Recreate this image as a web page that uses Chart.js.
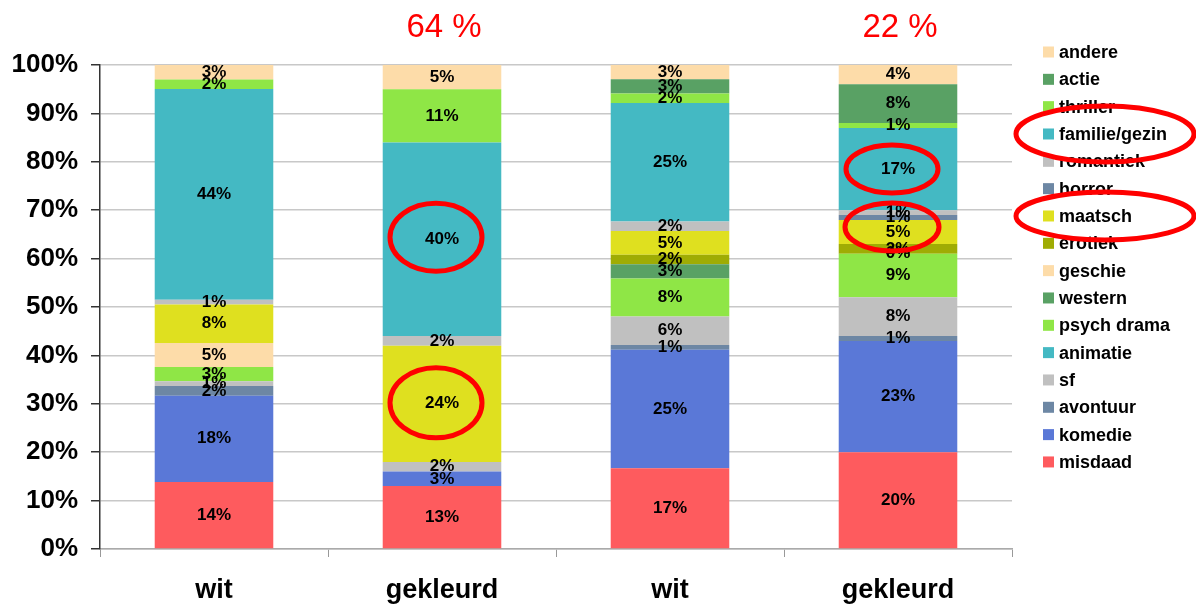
<!DOCTYPE html>
<html>
<head>
<meta charset="utf-8">
<script src="https://cdn.jsdelivr.net/npm/chart.js@4/dist/chart.umd.min.js"></script>
<style>
  body { margin: 0; background: #fff; }
</style>
</head>
<body>
<canvas id="c" width="1196" height="605"></canvas>
<script>
// categories and series (values as shown in the bar labels, in %)
const categories = ['wit', 'gekleurd', 'wit', 'gekleurd'];
const topNotes = ['', '64 %', '', '22 %'];

const misdaad    = [14, 13, 17, 20];
const komedie    = [18, 3, 25, 23];
const avontuur   = [2, null, 1, 1];
const sf         = [1, 2, 6, 8];
const animatie   = [null, null, null, null];
const psychDrama = [3, null, 8, 9];
const western    = [null, null, 3, 0];
const geschie    = [5, null, null, null];
const erotiek    = [null, null, 2, 2];
const maatsch    = [8, 24, 5, 5];
const horror     = [null, null, null, 1];
const romantiek  = [1, 2, 2, 1];
const familie    = [44, 40, 25, 17];
const thriller   = [2, 11, 2, 1];
const actie      = [null, null, 3, 8];
const andere     = [3, 5, 3, 4];

const yTicks = [0, 10, 20, 30, 40, 50, 60, 70, 80, 90, 100];

const seriesNames = ['misdaad', 'komedie', 'avontuur', 'sf', 'animatie', 'psych drama', 'western',
  'geschie', 'erotiek', 'maatsch', 'horror', 'romantiek', 'familie/gezin', 'thriller', 'actie', 'andere'];
const seriesValues = [misdaad, komedie, avontuur, sf, animatie, psychDrama, western,
  geschie, erotiek, maatsch, horror, romantiek, familie, thriller, actie, andere];
const seriesColors = ['#fe5b5e', '#5a78d7', '#6d87a4', '#c0c0c0', '#44b9c3', '#8fe646', '#59a164',
  '#fddca9', '#9fac04', '#dfe01f', '#6d87a4', '#c0c0c0', '#44b9c3', '#8fe646', '#59a164', '#fddca9'];

// red rings drawn over the chart: [series, category, rx, ry, dy]
const rings = [
  ['familie/gezin', 1, 46, 34, -2],
  ['maatsch', 1, 46, 35, -1],
  ['familie/gezin', 3, 46, 24, 0],
  ['maatsch', 3, 47, 24, -5]
];
const legendRings = ['familie/gezin', 'maatsch'];

const FONT = "'Liberation Sans', Arial, sans-serif";

const totals = categories.map((_, j) =>
  seriesValues.reduce((s, arr) => s + (arr[j] || 0), 0));

const datasets = seriesNames.map((name, i) => ({
  label: name,
  raw: seriesValues[i],
  data: seriesValues[i].map((v, j) => v === null ? null : v / totals[j] * 100),
  backgroundColor: seriesColors[i],
  borderWidth: 0,
  barPercentage: 0.52,
  categoryPercentage: 1
}));

const labelsPlugin = {
  id: 'segLabels',
  afterDatasetsDraw(chart) {
    const ctx = chart.ctx;
    ctx.save();
    ctx.font = 'bold 17px ' + FONT;
    ctx.fillStyle = '#000';
    ctx.textAlign = 'center';
    ctx.textBaseline = 'middle';
    chart.data.datasets.forEach((ds, i) => {
      const meta = chart.getDatasetMeta(i);
      meta.data.forEach((el, j) => {
        if (ds.raw[j] === null) return;
        ctx.fillText(ds.raw[j] + '%', el.x, (el.y + el.base) / 2);
      });
    });
    ctx.restore();
  },
  afterDraw(chart) {
    const ctx = chart.ctx;
    const area = chart.chartArea;
    ctx.save();
    // top notes
    ctx.font = '33px ' + FONT;
    ctx.fillStyle = '#ff0000';
    ctx.textAlign = 'center';
    ctx.textBaseline = 'middle';
    const xs = chart.scales.x;
    topNotes.forEach((t, j) => {
      if (t) ctx.fillText(t, xs.getPixelForValue(j) + 2, 28);
    });

    // legend (reversed order)
    const items = chart.data.datasets.map((d, i) => i).reverse();
    const lx = area.right + 31, ly = 52, step = 27.33;
    const legendY = {};
    ctx.font = 'bold 18px ' + FONT;
    ctx.textAlign = 'left';
    ctx.fillStyle = '#000';
    items.forEach((i, k) => {
      const ds = chart.data.datasets[i];
      const y = ly + k * step;
      legendY[ds.label] = y;
      ctx.fillStyle = ds.backgroundColor;
      ctx.fillRect(lx, y - 5.5, 11, 11);
      ctx.fillStyle = '#000';
      ctx.fillText(ds.label, lx + 16, y + 1);
    });

    // rings
    ctx.strokeStyle = '#ff0000';
    ctx.lineWidth = 5;
    rings.forEach(([name, j, rx, ry, dy]) => {
      const i = seriesNames.indexOf(name);
      const el = chart.getDatasetMeta(i).data[j];
      ctx.beginPath();
      ctx.ellipse(el.x - 6, (el.y + el.base) / 2 + dy, rx, ry, 0, 0, Math.PI * 2);
      ctx.stroke();
    });
    legendRings.forEach(name => {
      ctx.beginPath();
      ctx.ellipse(lx + 62, legendY[name], 89, name === 'maatsch' ? 24 : 28, 0, 0, Math.PI * 2);
      ctx.stroke();
    });
    ctx.restore();
  }
};

new Chart(document.getElementById('c'), {
  type: 'bar',
  data: { labels: categories, datasets },
  options: {
    responsive: false,
    animation: false,
    layout: { padding: { top: 65, left: 11.5, right: 184, bottom: 0.5 } },
    plugins: { legend: { display: false }, tooltip: { enabled: false } },
    scales: {
      x: {
        stacked: true,
        afterFit: s => { s.height = 55.5; },
        grid: { drawOnChartArea: false, tickLength: 8, tickColor: '#999', offset: true },
        border: { color: '#aaa', width: 1.5 },
        ticks: { color: '#000', padding: 20.5, font: { family: FONT, size: 27, weight: 'bold', lineHeight: 1 } }
      },
      y: {
        stacked: true,
        min: 0,
        max: 100,
        afterFit: s => { s.width = 88.5; },
        afterBuildTicks: s => { s.ticks = yTicks.map(v => ({ value: v })); },
        grid: { color: '#c8c8c8', lineWidth: 1.5, tickLength: 9, tickColor: '#333' },
        border: { color: '#333', width: 1.5 },
        ticks: {
          color: '#000', padding: 13,
          font: { family: FONT, size: 26, weight: 'bold' },
          callback: v => v + '%'
        }
      }
    }
  },
  plugins: [labelsPlugin]
});
</script>
</body>
</html>
